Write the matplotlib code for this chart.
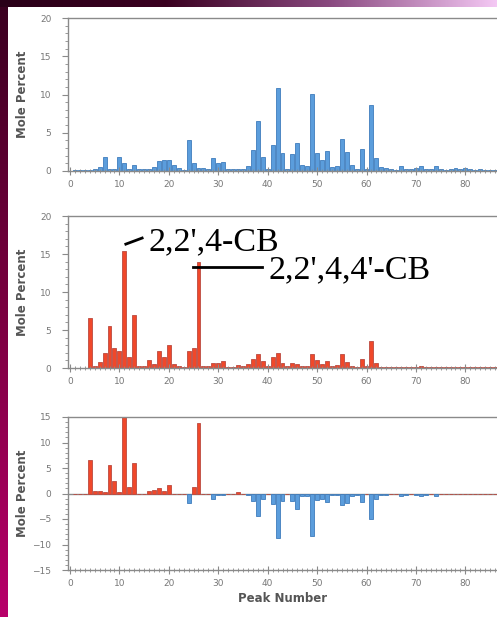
import numpy as np
import matplotlib
matplotlib.use("Agg")
import matplotlib.pyplot as plt
from matplotlib.colors import LinearSegmentedColormap
from matplotlib.ticker import MultipleLocator

# peak numbers and mole percent values
peaks = np.arange(1, 87)

top_vals = [0.1, 0.1, 0.1, 0.1, 0.2, 0.5, 1.8, 0.3, 0.2, 1.8,
            1.0, 0.3, 0.8, 0.2, 0.3, 0.2, 0.5, 1.3, 1.5, 1.5,
            0.8, 0.4, 0.1, 4.0, 1.0, 0.4, 0.4, 0.3, 1.7, 1.0,
            1.2, 0.3, 0.3, 0.2, 0.3, 0.7, 2.8, 6.6, 1.8, 0.2,
            3.4, 10.8, 2.3, 0.3, 2.2, 3.6, 0.8, 0.7, 10.1, 2.3,
            1.5, 2.6, 0.5, 0.7, 4.2, 2.5, 0.8, 0.3, 2.9, 0.3,
            8.6, 1.7, 0.5, 0.4, 0.2, 0.1, 0.6, 0.3, 0.2, 0.4,
            0.7, 0.3, 0.2, 0.6, 0.3, 0.1, 0.2, 0.4, 0.3, 0.4,
            0.2, 0.1, 0.2, 0.1, 0.1, 0.1]

mid_vals = [0.0, 0.0, 0.0, 6.6, 0.3, 0.8, 2.0, 5.5, 2.6, 2.2,
            15.4, 1.5, 7.0, 0.2, 0.2, 1.0, 0.5, 2.3, 1.5, 3.0,
            0.5, 0.2, 0.1, 2.2, 2.6, 14.0, 0.2, 0.2, 0.6, 0.6,
            0.9, 0.1, 0.1, 0.4, 0.2, 0.5, 1.2, 1.8, 0.9, 0.2,
            1.5, 2.0, 0.7, 0.2, 0.6, 0.5, 0.3, 0.2, 1.8, 1.0,
            0.5, 0.9, 0.3, 0.4, 1.8, 0.8, 0.3, 0.1, 1.2, 0.2,
            3.6, 0.7, 0.1, 0.1, 0.1, 0.1, 0.1, 0.1, 0.1, 0.1,
            0.2, 0.1, 0.1, 0.1, 0.1, 0.1, 0.1, 0.1, 0.1, 0.1,
            0.1, 0.1, 0.1, 0.1, 0.1, 0.1]

diff_vals = [0.0, 0.0, 0.0, 6.5, 0.4, 0.4, 0.2, 5.5, 2.5, 0.3,
             15.0, 1.2, 6.0, 0.0, 0.0, 0.5, 0.6, 1.0, 0.4, 1.7,
             0.0, 0.0, 0.0, -1.8, 1.2, 13.8, 0.0, 0.0, -1.0, -0.2,
             -0.2, 0.0, 0.0, 0.2, 0.0, -0.2, -1.5, -4.5, -1.0, 0.0,
             -2.0, -8.8, -1.5, 0.0, -1.5, -3.0, -0.5, -0.4, -8.3, -1.2,
             -1.0, -1.7, -0.2, -0.3, -2.3, -1.8, -0.5, -0.2, -1.6, 0.0,
             -5.0, -1.0, -0.3, -0.2, 0.0, 0.0, -0.4, -0.2, 0.0, -0.3,
             -0.4, -0.2, 0.0, -0.4, 0.0, 0.0, 0.0, 0.0, 0.0, 0.0,
             0.0, 0.0, 0.0, 0.0, 0.0, 0.0]

x_ticks = [0, 10, 20, 30, 40, 50, 60, 70, 80]

blue, blue_edge = "#5b9ddc", "#3f7cbc"
red, red_edge = "#f0482a", "#bb4a40"
grey = "#8a8a8a"

W, H = 497, 617
fig = plt.figure(figsize=(W / 100, H / 100), dpi=100)
fig.patch.set_facecolor("white")

# purple frame strips of the slide
left_strip = fig.add_axes([0, 0, 8 / W, 1])
left_strip.imshow(np.linspace(0, 1, 256).reshape(-1, 1), aspect="auto",
                  cmap=LinearSegmentedColormap.from_list("l", ["#3a0020", "#7a0040", "#b8006a"]))
left_strip.axis("off")
top_strip = fig.add_axes([0, 1 - 7 / H, 1, 7 / H])
top_strip.imshow(np.linspace(0, 1, 256).reshape(1, -1), aspect="auto",
                 cmap=LinearSegmentedColormap.from_list("t", ["#2a0018", "#3a0020", "#8a4a80", "#f4c8f4"]))
top_strip.axis("off")


def style(ax, ylo, yhi):
    ax.set_xlim(-0.4, 86.4)
    ax.set_ylim(ylo, yhi)
    ax.spines["right"].set_visible(False)
    for s in ["left", "top", "bottom"]:
        ax.spines[s].set_color(grey)
        ax.spines[s].set_linewidth(1.0)
    ax.set_xticks(x_ticks)
    ax.xaxis.set_minor_locator(MultipleLocator(1))
    ax.yaxis.set_major_locator(MultipleLocator(5))
    ax.yaxis.set_minor_locator(MultipleLocator(1))
    ax.tick_params(axis="both", which="major", colors=grey, labelcolor="#777777",
                   labelsize=6.5, length=4, width=0.8)
    ax.tick_params(axis="x", which="major", direction="inout", length=6)
    ax.tick_params(axis="y", which="major", pad=8)
    ax.tick_params(axis="x", which="minor", direction="inout", length=3, width=0.6, colors=grey)
    ax.tick_params(axis="y", which="minor", direction="out", length=2, width=0.6, colors=grey)
    ax.set_ylabel("Mole Percent", fontsize=8.5, fontweight="bold", color="#555555")
    ax.yaxis.label.set_va("center")
    ax.yaxis.set_label_coords((23 - 68) / (W - 68), 0.5)


# top panel
ax1 = fig.add_axes([68 / W, 1 - 171 / H, 1 - 68 / W, 153 / H])
ax1.bar(peaks, top_vals, width=0.8, color=blue, edgecolor=blue_edge, linewidth=0.6)
style(ax1, 0, 20)

# middle panel
ax2 = fig.add_axes([68 / W, 1 - 368 / H, 1 - 68 / W, 152 / H])
ax2.bar(peaks, mid_vals, width=0.8, color=red, edgecolor=red_edge, linewidth=0.6)
style(ax2, 0, 20)
ax2.plot([11.3, 14.6], [16.3, 17.1], color="black", lw=2, clip_on=False)
ax2.text(15.8, 15.5, "2,2',4-CB", family="Liberation Serif", fontsize=24.5, va="baseline")
ax2.plot([24.9, 38.9], [13.3, 13.3], color="black", lw=2, clip_on=False)
ax2.text(40.1, 11.8, "2,2',4,4'-CB", family="Liberation Serif", fontsize=24.5, va="baseline")

# difference panel
ax3 = fig.add_axes([68 / W, 1 - 570 / H, 1 - 68 / W, 153 / H])
diff = np.array(diff_vals)
ax3.axhline(0, color=grey, lw=1.0, zorder=1)
ax3.bar(peaks, diff, width=0.8,
        color=np.where(diff >= 0, red, blue),
        edgecolor=np.where(diff >= 0, red_edge, blue_edge), linewidth=0.6, zorder=2)
style(ax3, -15, 15)
ax3.set_xlabel("Peak Number", fontsize=8.5, fontweight="bold", color="#555555", labelpad=3)

fig.savefig("out.png", dpi=100)
